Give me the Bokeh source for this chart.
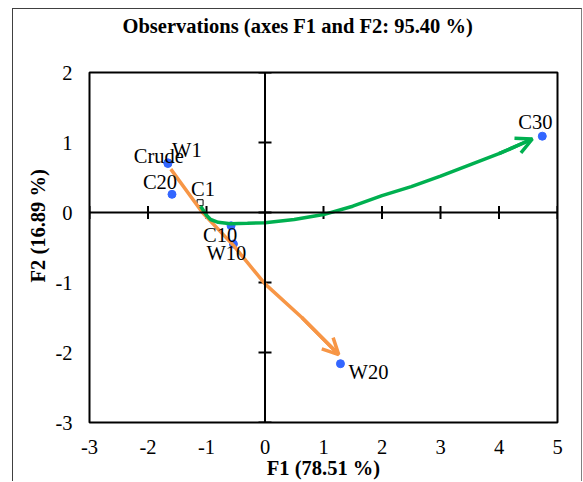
import math
from bokeh.plotting import figure
from bokeh.models import Span, Arrow, OpenHead, FixedTicker, Range1d, ColumnDataSource, Title
from bokeh.embed import file_html
from bokeh.resources import INLINE
from bokeh.core.properties import value

# ---- data ----
obs_labels = ["Crude", "W1", "C20", "C1", "C10", "W10", "W20", "C30"]
obs_f1 = [-1.66, -1.66, -1.59, -1.11, -0.58, -0.54, 1.29, 4.74]
obs_f2 = [0.70, 0.71, 0.26, 0.14, -0.19, -0.45, -2.16, 1.09]

# trajectory drawn with the green arrow (C series)
green_f1 = [-1.10, -1.00, -0.93, -0.80, -0.59, -0.30, 0.00, 0.50, 1.00, 1.50, 2.00, 2.50, 3.00, 3.50, 4.00, 4.57]
green_f2 = [0.09, -0.04, -0.10, -0.14, -0.16, -0.155, -0.145, -0.10, -0.03, 0.09, 0.24, 0.37, 0.52, 0.68, 0.84, 1.05]

# trajectory drawn with the orange arrow (W series)
orange_f1 = [-1.61, -1.07, -0.54, 0.00, 0.63, 1.26]
orange_f2 = [0.62, 0.00, -0.47, -1.02, -1.50, -2.03]

x_ticks = [-3, -2, -1, 0, 1, 2, 3, 4, 5]
y_ticks = [-3, -2, -1, 0, 1, 2]

title_text = "Observations (axes F1 and F2: 95.40 %)"
x_title = "F1 (78.51 %)"
y_title = "F2 (16.89 %)"

# ---- styles ----
FONT = "Liberation Serif"
FS = "20.5px"
BLUE = "#3366FF"
ORANGE = "#F79646"
GREEN = "#00B050"
label_dx = [-9, 19, -12, 3, -11, -7, 28, -7]
label_dy = [-8, -13, -12, -14, 9, 9, 8, -14]

p = figure(
    frame_width=468, frame_height=350,
    min_border_left=76, min_border_right=24, min_border_top=63, min_border_bottom=59,
    x_range=Range1d(x_ticks[0], x_ticks[-1]), y_range=Range1d(y_ticks[0], y_ticks[-1]),
    output_backend="svg", toolbar_location=None, title=None,
)
p.margin = (8, 0, 0, 12)
p.styles = {"border-top": "1px solid #404040", "border-left": "1px solid #404040",
            "border-right": "1px solid #808080"}
p.background_fill_color = "white"
p.border_fill_color = "white"
p.xgrid.visible = False
p.ygrid.visible = False
p.outline_line_color = "black"
p.outline_line_width = 2
p.outline_line_alpha = 1

# chart title: an empty spacer title keeps it away from the frame
p.add_layout(Title(text=" ", standoff=12, text_font=FONT, text_font_size=FS), "above")
p.add_layout(Title(text=title_text, align="left", offset=33, standoff=0,
                   text_font=FONT, text_font_size=FS, text_font_style="bold",
                   text_color="black"), "above")

for ax, ticks in ((p.xaxis[0], x_ticks), (p.yaxis[0], y_ticks)):
    ax.ticker = FixedTicker(ticks=ticks)
    ax.major_label_overrides = {t: str(t) for t in ticks}
    ax.axis_line_color = None
    ax.major_tick_line_color = None
    ax.minor_tick_line_color = None
    ax.major_tick_in = 0
    ax.major_tick_out = 0
    ax.major_label_text_font = FONT
    ax.major_label_text_font_size = FS
    ax.major_label_text_color = "black"

p.xaxis.major_label_standoff = 17
p.yaxis.major_label_standoff = 17
p.xaxis.axis_label = x_title
p.xaxis.axis_label_text_font = FONT
p.xaxis.axis_label_text_font_size = FS
p.xaxis.axis_label_text_font_style = "bold"
p.xaxis.axis_label_text_color = "black"
p.xaxis.axis_label_standoff = 0

ytitle = Title(text=y_title, align="left", offset=140, standoff=8,
               text_font=FONT, text_font_size=FS, text_font_style="bold", text_color="black")
p.add_layout(ytitle, "left")

# axes crossing at the origin
p.add_layout(Span(location=0, dimension="width", line_color="black", line_width=2))
p.add_layout(Span(location=0, dimension="height", line_color="black", line_width=2))
p.scatter(x=x_ticks, y=[0] * len(x_ticks), marker="dash", angle=math.pi / 2, size=13,
          line_color="black", line_width=2)
p.scatter(x=[0] * len(y_ticks), y=y_ticks, marker="dash", size=13,
          line_color="black", line_width=2)

# observations
src = ColumnDataSource(dict(x=obs_f1, y=obs_f2, label=obs_labels, dx=label_dx, dy=label_dy))
dots = [i for i, l in enumerate(obs_labels) if l != "C1"]
p.scatter(x=[obs_f1[i] for i in dots], y=[obs_f2[i] for i in dots], size=8,
          fill_color=BLUE, line_color=BLUE)
c1 = obs_labels.index("C1")
p.scatter(x=[obs_f1[c1]], y=[obs_f2[c1]], marker="square", size=6,
          fill_color="white", line_color="black", line_width=1)

# trajectories
p.line(orange_f1, orange_f2, line_color=ORANGE, line_width=3.5)
p.add_layout(Arrow(end=OpenHead(size=16, line_color=ORANGE, line_width=3.5),
                   x_start=orange_f1[-2], y_start=orange_f2[-2],
                   x_end=orange_f1[-1], y_end=orange_f2[-1],
                   line_color=ORANGE, line_width=3.5))
p.line(green_f1, green_f2, line_color=GREEN, line_width=3.5)
p.add_layout(Arrow(end=OpenHead(size=16, line_color=GREEN, line_width=3.5),
                   x_start=green_f1[-2], y_start=green_f2[-2],
                   x_end=green_f1[-1], y_end=green_f2[-1],
                   line_color=GREEN, line_width=3.5))

p.text(x="x", y="y", text="label", source=src, x_offset="dx", y_offset="dy",
       text_align="center", text_baseline="middle", text_font=value(FONT),
       text_font_size=FS, text_color="black")

open("out.html", "w").write(file_html(p, INLINE))
